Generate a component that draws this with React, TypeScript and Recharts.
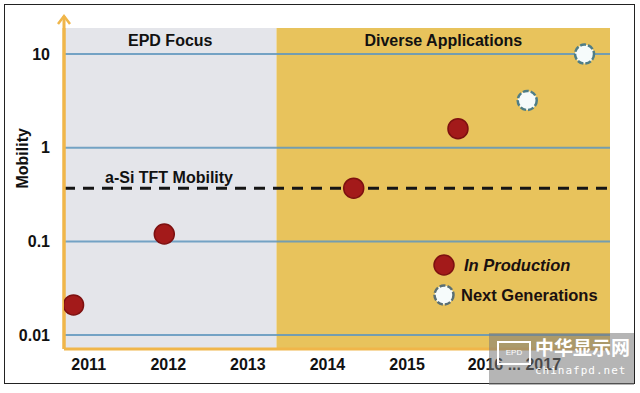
import React from 'react';
import {
  ScatterChart,
  Scatter,
  XAxis,
  YAxis,
  ReferenceArea,
  ReferenceLine,
} from 'recharts';

// Years on the x axis and the log-scale mobility ticks
const yearTicks = [2011, 2012, 2013, 2014, 2015, 2016];
const mobilityTicks = [0.01, 0.1, 1, 10];

// Devices already in production
const inProductionYears = [2010.81, 2011.95, 2014.33, 2015.64];
const inProductionMobility = [0.021, 0.12, 0.37, 1.6];

// Next generation targets
const nextGenYears = [2016.51, 2017.23];
const nextGenMobility = [3.2, 10];

// a-Si TFT reference level and period split
const aSiMobility = 0.37;
const xDomain: [number, number] = [2010.69, 2017.55];
const yDomain: [number, number] = [0.0071, 19];
const periodSplit = 2013.36;

const productionData = inProductionYears.map((year, i) => ({ year, mobility: inProductionMobility[i] }));
const nextGenData = nextGenYears.map((year, i) => ({ year, mobility: nextGenMobility[i] }));

const FONT = '"Liberation Sans", Arial, sans-serif';
const RED = '#a31a1a';
const GRID = '#5f97bd';

const RedDot = ({ cx, cy }: any) => (
  <circle cx={cx} cy={cy} r={10} fill={RED} stroke="#7d1010" strokeWidth={1.5} />
);

const WhiteDot = ({ cx, cy }: any) => (
  <circle cx={cx} cy={cy} r={9.5} fill="#f6fbfb" stroke="#4f7d86" strokeWidth={2.5} strokeDasharray="6 2" />
);

const YearTick = ({ x, y, payload }: any) => {
  const last = payload.value === 2016;
  return (
    <text
      x={last ? x - 19 : x}
      y={y + 19}
      textAnchor={last ? 'start' : 'middle'}
      fontFamily={FONT}
      fontSize={16}
      fontWeight="bold"
      fill="#111"
    >
      {last ? '2016 ... 2017' : payload.value}
    </text>
  );
};

const ArrowLine = ({ x1, y1, x2, y2 }: any) => (
  <g>
    <line x1={x1} y1={y1} x2={x2} y2={y2} stroke="#f0b64a" strokeWidth={3} />
    <polyline points={`${x2 - 6},${y2 + 8} ${x2},${y2} ${x2 + 6},${y2 + 8}`} fill="none" stroke="#f0b64a" strokeWidth={2.5} />
  </g>
);

const App = () => {
  return (
    <div style={{ position: 'absolute', left: 0, top: 0, width: 640, height: 393, background: '#fff' }}>
      <div
        style={{
          position: 'absolute',
          left: 4,
          top: 4,
          width: 629,
          height: 378,
          border: '1.5px solid #222',
        }}
      />
      <ScatterChart
        width={640}
        height={393}
        margin={{ top: 28, right: 30, bottom: 14, left: 8 }}
        style={{ position: 'absolute', left: 0, top: 0, fontFamily: FONT }}
      >
        <ReferenceArea x1={xDomain[0]} x2={periodSplit} y1={yDomain[0]} y2={yDomain[1]} fill="#e4e5ea" fillOpacity={1} stroke="none"
          label={{ value: 'EPD Focus', position: 'insideTop', offset: 7, fill: '#111', fontSize: 16, fontWeight: 'bold', fontFamily: FONT }} />
        <ReferenceArea x1={periodSplit} x2={xDomain[1]} y1={yDomain[0]} y2={yDomain[1]} fill="#e8c35c" fillOpacity={1} stroke="none"
          label={{ value: 'Diverse Applications', position: 'insideTop', offset: 7, fill: '#111', fontSize: 16, fontWeight: 'bold', fontFamily: FONT }} />
        {mobilityTicks.map((t) => (
          <ReferenceLine key={t} y={t} stroke={GRID} strokeWidth={2} strokeOpacity={0.85} />
        ))}
        <ReferenceLine
          y={aSiMobility}
          stroke="#151515"
          strokeWidth={3}
          strokeDasharray="11 8"
          label={(props: any) => {
            const vb = props.viewBox || {};
            return (
              <text x={vb.x + 41} y={vb.y - 5} fontFamily={FONT} fontSize={16} fontWeight="bold" fill="#111">
                a-Si TFT Mobility
              </text>
            );
          }}
        />
        <XAxis
          type="number"
          dataKey="year"
          domain={xDomain}
          ticks={yearTicks}
          allowDataOverflow
          height={30}
          tickLine={false}
          tickSize={0}
          axisLine={{ stroke: '#f0b64a', strokeWidth: 3 }}
          tick={<YearTick />}
        />
        <YAxis
          type="number"
          dataKey="mobility"
          scale="log"
          domain={yDomain}
          ticks={mobilityTicks}
          allowDataOverflow
          width={56}
          tickLine={false}
          tickSize={0}
          tickMargin={14}
          axisLine={{ stroke: '#f0b64a', strokeWidth: 3 }}
          tickFormatter={(v: number) => String(v)}
          tick={{ fill: '#111', fontSize: 16, fontWeight: 'bold', fontFamily: FONT }}
          label={{ value: 'Mobility', angle: -90, position: 'insideLeft', offset: 14, fill: '#111', fontSize: 16, fontWeight: 'bold', fontFamily: FONT }}
        />
        <ReferenceLine
          ifOverflow="visible"
          segment={[{ x: xDomain[0], y: yDomain[0] }, { x: xDomain[0], y: 25.5 }]}
          shape={<ArrowLine />}
        />
        <Scatter name="In Production" data={productionData} shape={<RedDot />} isAnimationActive={false} />
        <Scatter name="Next Generations" data={nextGenData} shape={<WhiteDot />} isAnimationActive={false} />
      </ScatterChart>

      {/* legend */}
      <div style={{ position: 'absolute', left: 433, top: 250, fontFamily: FONT, fontWeight: 'bold', fontSize: 16.5, color: '#1a1010', whiteSpace: 'nowrap' }}>
        <div style={{ display: 'flex', alignItems: 'center', height: 30 }}>
          <svg width={22} height={22} style={{ marginRight: 9 }}>
            <circle cx={11} cy={11} r={10} fill={RED} stroke="#7d1010" strokeWidth={1.5} />
          </svg>
          <span style={{ fontStyle: 'italic' }}>In Production</span>
        </div>
        <div style={{ display: 'flex', alignItems: 'center', height: 30 }}>
          <svg width={22} height={22} style={{ marginRight: 6 }}>
            <circle cx={11} cy={11} r={9.5} fill="#f6fbfb" stroke="#5a6f74" strokeWidth={2.5} strokeDasharray="6 2" />
          </svg>
          <span>Next Generations</span>
        </div>
      </div>

      {/* watermark */}
      <div
        style={{
          position: 'absolute',
          left: 489,
          top: 333,
          width: 145,
          height: 52,
          background: 'rgba(120,120,120,0.55)',
          color: '#fff',
          whiteSpace: 'nowrap',
          overflow: 'hidden',
        }}
      >
        <div style={{ position: 'absolute', left: 46, top: 0, fontSize: 19, fontWeight: 'bold', lineHeight: '28px', fontFamily: '"Noto Sans CJK SC", sans-serif' }}>中华显示网</div>
        <div style={{ position: 'absolute', left: 46, top: 30, fontSize: 11, letterSpacing: 1, lineHeight: '16px', fontFamily: '"DejaVu Sans Mono", monospace' }}>chinafpd.net</div>
        <div style={{ position: 'absolute', left: 8, top: 8, width: 30, height: 20, border: '2px solid #fff', fontSize: 8, textAlign: 'center', lineHeight: '20px', fontFamily: FONT }}>EPD</div>
      </div>
    </div>
  );
};

export default App;
